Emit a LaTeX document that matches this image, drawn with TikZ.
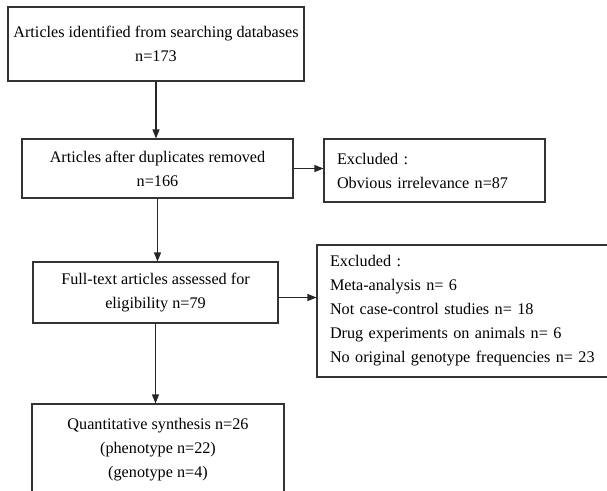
\documentclass[tikz,border=0pt]{standalone}
\usepackage{fontspec}
\setmainfont{Liberation Serif}
\usetikzlibrary{arrows.meta}

\begin{document}
\begin{tikzpicture}[x=1pt, y=-1pt]
  % Define box and arrow style
  \tikzstyle{stagebox} = [draw=black!80, line width=1.1pt, rectangle,
  align=center, inner sep=0pt, font=\fontsize{16.2}{24}\selectfont]
  \tikzstyle{excludebox} = [stagebox, align=left, inner xsep=13pt]
  \tikzstyle{flowarrow} = [draw=black!85, line width=1.1pt,
  -{Triangle[length=9pt, width=7pt]}]

  \path[use as bounding box, clip] (0,0) rectangle (607,490);
  \fill[white] (0,0) rectangle (607,490);

  % Main stages
  \node[stagebox, minimum width=296pt, minimum height=74pt] (found) at (156,44)
  {Articles identified from searching databases\\ n=173};
  \node[stagebox, minimum width=271pt, minimum height=59pt] (nodup) at (157.5,168.5)
  {Articles after duplicates removed\\ n=166};
  \node[stagebox, minimum width=245pt, minimum height=61pt] (fulltext) at (155.5,292.5)
  {Full-text articles assessed for\\ eligibility n=79};
  \node[stagebox, minimum width=252pt, minimum height=92pt] (synthesis) at (158,450)
  {Quantitative synthesis n=26\\ (phenotype n=22)\\ (genotype n=4)};

  % Excluded boxes
  \node[excludebox, minimum height=63pt, text width=195pt] (obvious) at (434.5,170.5)
  {Excluded :\\ Obvious irrelevance n=87};
  \node[excludebox, minimum height=132pt, text width=269pt] (excluded) at (464.5,311)
  {Excluded :\\ Meta-analysis n= 6\\ Not case-control studies n= 18\\
    Drug experiments on animals n= 6\\ No original genotype frequencies n= 23};

  % Arrows
  \draw[flowarrow] (found.south) -- (found.south |- nodup.north);
  \draw[flowarrow] (nodup.east) -- (nodup.east -| obvious.west);
  \draw[flowarrow] (nodup.south) -- (nodup.south |- fulltext.north);
  \draw[flowarrow] ([yshift=-5pt]fulltext.east) -- ([yshift=-5pt]fulltext.east -| excluded.west);
  \draw[flowarrow] (fulltext.south) -- (fulltext.south |- synthesis.north);
\end{tikzpicture}
\end{document}
